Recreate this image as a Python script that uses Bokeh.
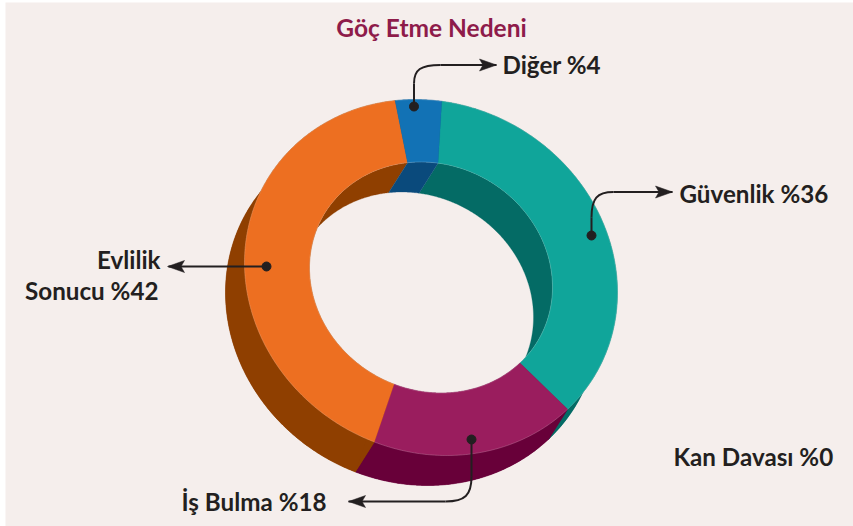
import numpy as np
from bokeh.plotting import figure
from bokeh.models import Range1d
from bokeh.core.properties import value
from bokeh.embed import file_html
from bokeh.resources import INLINE

# data, clockwise from the top of the ring
categories = ["Güvenlik", "İş Bulma", "Evlilik Sonucu", "Diğer", "Kan Davası"]
shares = [36, 18, 42, 4, 0]
front_colors = ["#10A59A", "#9A1D5E", "#ED6F21", "#1272B5", "#10A59A"]
dark_colors = ["#046B65", "#680039", "#8F3F00", "#0A4A7C", "#046B65"]
title = "Göç Etme Nedeni"

BG = "#F5EEEC"
INK = "#231F20"
CX, CY = 430.5, 277
RX, RY = 186.5, 178
IX, IY = 121.5, 115.5
DX, DY = -19, 30
START = 3.3
TILT = 0.084


def arc(a0, a1, rx, ry, ox=0, oy=0):
    t = np.radians(np.linspace(a0, a1, max(int(abs(a1 - a0) * 2), 2)))
    x = CX + ox + rx * np.sin(t)
    y = CY + oy + TILT * ry * np.sin(t) - ry * np.sqrt(1 - TILT ** 2) * np.cos(t)
    return x, y


p = figure(width=853, height=526, output_backend="svg", toolbar_location=None,
           x_range=Range1d(0, 853), y_range=Range1d(526, 0), min_border=0,
           background_fill_color="#FFFFFF", border_fill_color="#FFFFFF", outline_line_color=None)
p.axis.visible = False
p.grid.visible = False

p.quad(left=[5], right=[853], top=[2], bottom=[526], fill_color=BG, line_color=None)

edges = START + np.cumsum([0] + shares) * 3.6

# extruded outside: back ring plus the swept outer walls
for a0, a1, col in zip(edges[:-1], edges[1:], dark_colors):
    if a1 == a0:
        a1 = a0 + 0.01
    xs, ys = [], []
    ox, oy = arc(a0, a1, RX, RY)
    bx, by = arc(a0, a1, RX, RY, DX, DY)
    jx, jy = arc(a0, a1, IX, IY, DX, DY)
    ix, iy = arc(a0, a1, IX, IY)
    xs.append(np.r_[bx, jx[::-1]]); ys.append(np.r_[by, jy[::-1]])
    xs.append(np.r_[ox, bx[::-1]]); ys.append(np.r_[oy, by[::-1]])
    for e in (0, -1):
        xs.append(np.array([ox[e], bx[e], jx[e], ix[e]]))
        ys.append(np.array([oy[e], by[e], jy[e], iy[e]]))
    p.patches(xs, ys, fill_color=col, line_color=col, line_width=0.3)

# the hole of the front face shows only the inner wall
hx, hy = arc(0, 360, IX, IY)
p.patch(hx, hy, fill_color=BG, line_color=BG, line_width=0.5)
for a0, a1, col in zip(edges[:-1], edges[1:], dark_colors):
    if a1 == a0:
        continue
    ix, iy = arc(a0, a1, IX, IY)
    jx, jy = arc(a0, a1, IX, IY, DX, DY)
    p.patch(np.r_[ix, jx[::-1]], np.r_[iy, jy[::-1]], fill_color=col, line_color=col, line_width=0.3)

# front face
for a0, a1, col in zip(edges[:-1], edges[1:], front_colors):
    if a1 == a0:
        continue
    ox, oy = arc(a0, a1, RX, RY)
    ix, iy = arc(a0, a1, IX, IY)
    p.patch(np.r_[ox, ix[::-1]], np.r_[oy, iy[::-1]], fill_color=col,
            line_color=col, line_width=0.3)
    p.line(ox, oy, line_color="#FFFFFF", line_alpha=0.3, line_width=0.6)
    p.line(ix, iy, line_color="#FFFFFF", line_alpha=0.3, line_width=0.6)


def arrow(tx, ty, d):
    p.patch([tx, tx + d * 17, tx + d * 13.5, tx + d * 17], [ty, ty - 6, ty, ty + 6],
            fill_color=INK, line_color=INK, line_width=0.5)


def curve(dot, corner_a, corner_b, tip, d):
    """dot -> vertical run -> rounded corner -> horizontal run -> arrow tip"""
    p.scatter([dot[0]], [dot[1]], size=9, marker="circle", fill_color=INK, line_color=INK)
    p.line([dot[0], corner_a[0]], [dot[1], corner_a[1]], line_color=INK, line_width=2)
    p.bezier([corner_a[0]], [corner_a[1]], [corner_b[0]], [corner_b[1]],
             [corner_a[0]], [corner_b[1] + (corner_a[1] - corner_b[1]) * 0.25],
             [corner_a[0] + (corner_b[0] - corner_a[0]) * 0.25], [corner_b[1]],
             line_color=INK, line_width=2)
    p.line([corner_b[0], tip[0]], [corner_b[1], tip[1]], line_color=INK, line_width=2)
    arrow(tip[0], tip[1], d)


curve((413.5, 106), (413.5, 83), (440, 64.5), (496, 64.5), -1)
curve((591, 235), (591, 217), (613, 191.5), (672, 191.5), -1)
curve((471, 439), (471, 476), (445, 501), (348, 501), 1)
p.scatter([266], [266], size=9, marker="circle", fill_color=INK, line_color=INK)
p.line([266, 168], [266, 266], line_color=INK, line_width=2)
arrow(167, 266, 1)

LABEL = value("Lato")
SIZE = value("24.2px")


def label(x, y, s, align="left", color=INK, size=SIZE):
    p.text([x], [y], text=[s], text_font=LABEL, text_font_style="bold", text_font_size=size,
           text_color=color, text_align=align, text_baseline="middle")


label(431, 27, title, "center", "#8E1B4A", value("24.5px"))
label(502, 64, "Diğer %4")
label(679, 193, "Güvenlik %36")
label(160, 259, "Evlilik", "right")
label(158, 290, "Sonucu %42", "right")
label(181, 501, "İş Bulma %18")
label(673, 456, "Kan Davası %0")

open("out.html", "w").write(file_html(p, INLINE))
